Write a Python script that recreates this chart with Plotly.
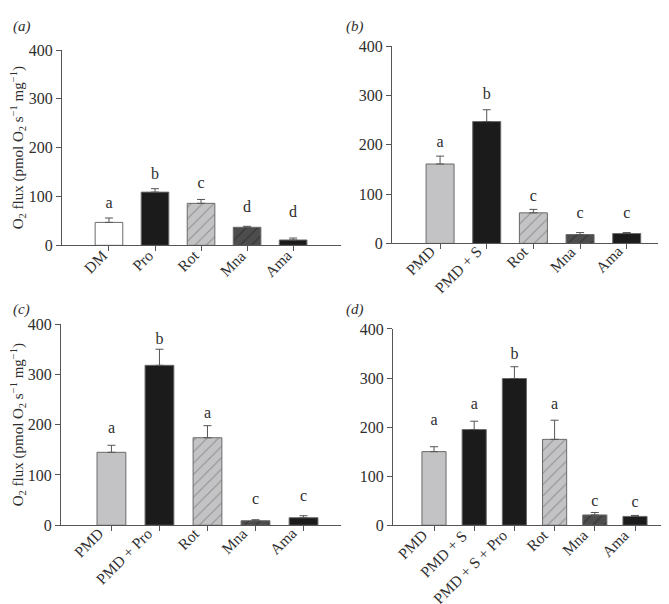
import plotly.graph_objects as go

W, H = 669, 604

# ---- data ----
a_cats = ["DM", "Pro", "Rot", "Mna", "Ama"]
a_vals = [47, 109, 86, 37, 11]
a_errs = [9, 7, 8, 2, 4]
a_lets = ["a", "b", "c", "d", "d"]
a_lety = [84, 144, 126, 76, 66]

b_cats = ["PMD", "PMD + S", "Rot", "Mna", "Ama"]
b_vals = [161, 247, 62, 18, 20]
b_errs = [16, 24, 7, 4, 2]
b_lets = ["a", "b", "c", "c", "c"]
b_lety = [203, 300, 94, 60, 60]

c_cats = ["PMD", "PMD + Pro", "Rot", "Mna", "Ama"]
c_vals = [145, 318, 174, 9, 15]
c_errs = [14, 32, 24, 2, 4]
c_lets = ["a", "b", "a", "c", "c"]
c_lety = [191, 369, 222, 51, 57]

d_cats = ["PMD", "PMD + S", "PMD + S + Pro", "Rot", "Mna", "Ama"]
d_vals = [150, 195, 299, 175, 21, 18]
d_errs = [10, 17, 24, 39, 5, 2]
d_lets = ["a", "a", "b", "a", "c", "c"]
d_lety = [213, 246, 347, 246, 48, 46]

y_ticks = [0, 100, 200, 300, 400]

# ---- styles per category ----
LIGHT = "#c3c3c5"
BLACK = "#1b1b1b"
styles = {
    "DM": dict(color="white", pattern=None),
    "Pro": dict(color=BLACK, pattern=None),
    "PMD": dict(color=LIGHT, pattern=None),
    "PMD + S": dict(color=BLACK, pattern=None),
    "PMD + Pro": dict(color=BLACK, pattern=None),
    "PMD + S + Pro": dict(color=BLACK, pattern=None),
    "Rot": dict(color=LIGHT, pattern=dict(shape="/", bgcolor=LIGHT, fgcolor="#555555", size=8, solidity=0.12)),
    "Mna": dict(color="#4d4d4d", pattern=dict(shape="/", bgcolor="#4d4d4d", fgcolor="#111111", size=8, solidity=0.12)),
    "Ama": dict(color=BLACK, pattern=None),
}

SERIF = "Liberation Serif"
TXT = "#2e2e2e"
fig = go.Figure()

# (cats, vals, errs, letters, letter y, x px span, y px (zero, 400), x range, label, label pos, y title, tick-label offset px)
panels = [
    (a_cats, a_vals, a_errs, a_lets, a_lety, (54, 333), (236, 35), (-1.02, 5.04), "(a)", (3, 11), True, (3, 0)),
    (b_cats, b_vals, b_errs, b_lets, b_lety, (384, 650), (234, 31), (-1.03, 4.67), "(b)", (336, 11), False, (0, -2)),
    (c_cats, c_vals, c_errs, c_lets, c_lety, (53, 333), (524, 317), (-1.05, 4.78), "(c)", (3, 302), True, (-3, -2)),
    (d_cats, d_vals, d_errs, d_lets, d_lety, (385, 668), (524, 322), (-1.02, 6.02), "(d)", (336, 302), False, (-2, 0)),
]

layout = dict(
    width=W, height=H, margin=dict(l=0, r=0, t=0, b=0),
    paper_bgcolor="white", plot_bgcolor="white", showlegend=False,
    font=dict(family=SERIF, color=TXT, size=15),
    annotations=[], bargap=0.4,
)

for i, (cats, vals, errs, lets, lety, xpx, ypx, xr, lab, labpos, ytitle, toff) in enumerate(panels):
    n = i + 1
    xa = "x" if n == 1 else f"x{n}"
    ya = "y" if n == 1 else f"y{n}"
    xs = list(range(len(cats)))
    for j, c in enumerate(cats):
        st = styles[c]
        marker = dict(color=st["color"], line=dict(color="#6a6a6a", width=1))
        if st["pattern"]:
            marker["pattern"] = st["pattern"]
        fig.add_trace(go.Bar(
            x=[xs[j]], y=[vals[j]], width=0.6, marker=marker,
            error_y=dict(type="data", symmetric=False, array=[errs[j]], arrayminus=[0],
                         color="#555555", thickness=1, width=4),
            xaxis=xa, yaxis=ya,
        ))
    fig.add_trace(go.Scatter(
        x=xs, y=lety, mode="text", text=lets,
        textfont=dict(family=SERIF, size=16, color=TXT),
        xaxis=xa, yaxis=ya, hoverinfo="skip",
    ))
    # rotated category labels
    for j, c in enumerate(cats):
        layout["annotations"].append(dict(
            text=c, x=xs[j], y=0, xref=xa, yref=ya,
            xanchor="right", yanchor="top", textangle=-45,
            xshift=toff[0], yshift=-toff[1], showarrow=False, borderpad=0,
            font=dict(family=SERIF, size=15.5, color=TXT),
        ))
    xkey = "xaxis" if n == 1 else f"xaxis{n}"
    ykey = "yaxis" if n == 1 else f"yaxis{n}"
    layout[xkey] = dict(
        domain=[xpx[0] / W, xpx[1] / W], range=list(xr), anchor=ya,
        tickmode="array", tickvals=xs, showticklabels=False,
        ticks="outside", ticklen=5, tickcolor="#555555",
        showline=True, linecolor="#555555", linewidth=1,
        showgrid=False, zeroline=False,
    )
    ydict = dict(
        domain=[1 - ypx[0] / H, 1 - ypx[1] / H], range=[0, 400], anchor=xa,
        tickmode="array", tickvals=y_ticks,
        ticks="outside", ticklen=5, tickcolor="#555555",
        showline=True, linecolor="#555555", linewidth=1,
        showgrid=False, zeroline=False,
        tickfont=dict(family=SERIF, size=16, color=TXT),
    )
    if ytitle:
        ydict["title"] = dict(
            text="O<sub>2</sub> flux (pmol O<sub>2</sub> s<sup>\u22121</sup> mg<sup>\u22121</sup>)",
            font=dict(family=SERIF, size=15, color=TXT), standoff=6,
        )
    layout[ykey] = ydict
    layout["annotations"].append(dict(
        text=f"<i>{lab}</i>", x=labpos[0] / W, y=1 - labpos[1] / H,
        xref="paper", yref="paper", xanchor="left", yanchor="middle",
        showarrow=False, font=dict(family=SERIF, size=15, color=TXT),
    ))

fig.update_layout(**layout)
fig.write_html("out.html")
